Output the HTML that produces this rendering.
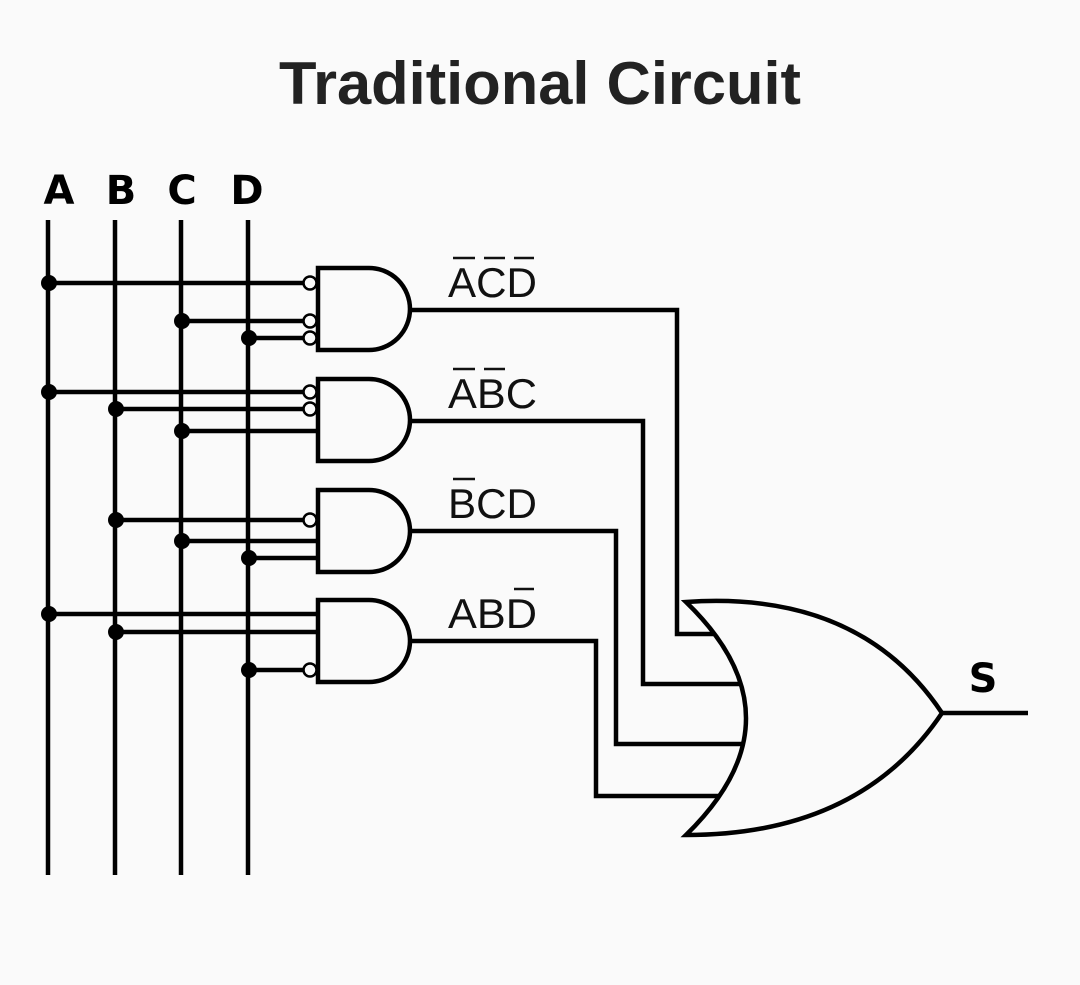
<!DOCTYPE html>
<html><head><style>
html,body{margin:0;padding:0;background:#fafafa;}
svg{display:block;}
</style></head><body>
<svg width="1080" height="985" viewBox="0 0 1080 985" xmlns="http://www.w3.org/2000/svg">
<rect width="1080" height="985" fill="#fafafa"/>
<text x="540" y="104" text-anchor="middle" font-family="Liberation Sans, sans-serif" font-weight="bold" font-size="60" fill="#222" textLength="522" lengthAdjust="spacingAndGlyphs">Traditional Circuit</text>
<g font-family="DejaVu Sans, sans-serif" font-weight="bold" font-size="40" fill="#000" text-anchor="middle">
<text x="59" y="204">A</text><text x="121" y="204">B</text><text x="182" y="204">C</text><text x="247" y="204">D</text>
</g>
<g stroke="#000" stroke-width="4.5" fill="none">
<line x1="48" y1="220" x2="48" y2="875"/>
<line x1="115" y1="220" x2="115" y2="875"/>
<line x1="181" y1="220" x2="181" y2="875"/>
<line x1="248" y1="220" x2="248" y2="875"/>
<line x1="48" y1="283" x2="318" y2="283"/>
<line x1="181" y1="321" x2="318" y2="321"/>
<line x1="248" y1="338" x2="318" y2="338"/>
<line x1="48" y1="392" x2="318" y2="392"/>
<line x1="115" y1="409" x2="318" y2="409"/>
<line x1="181" y1="431" x2="318" y2="431"/>
<line x1="115" y1="520" x2="318" y2="520"/>
<line x1="181" y1="541" x2="318" y2="541"/>
<line x1="248" y1="558" x2="318" y2="558"/>
<line x1="48" y1="614" x2="318" y2="614"/>
<line x1="115" y1="632" x2="318" y2="632"/>
<line x1="248" y1="670" x2="318" y2="670"/>
<path d="M318 268 H369 A41 41 0 0 1 369 350 H318 Z" fill="#fafafa"/>
<path d="M318 379 H369 A41 41 0 0 1 369 461 H318 Z" fill="#fafafa"/>
<path d="M318 490 H369 A41 41 0 0 1 369 572 H318 Z" fill="#fafafa"/>
<path d="M318 600 H369 A41 41 0 0 1 369 682 H318 Z" fill="#fafafa"/>
<polyline points="410,310 677,310 677,634 716,634"/>
<polyline points="410,421 643,421 643,684 742,684"/>
<polyline points="410,531 616,531 616,744 746,744"/>
<polyline points="410,641 596,641 596,796 724,796"/>
<path d="M686 602 Q806 718 686 835 Q860 835 942 713 Q860 590 686 602 Z" fill="#fafafa"/>
<line x1="942" y1="713" x2="1028" y2="713"/>
</g>
<g fill="#fafafa" stroke="#000" stroke-width="2.5">
<circle cx="310" cy="283" r="6.5"/><circle cx="310" cy="321" r="6.5"/><circle cx="310" cy="338" r="6.5"/>
<circle cx="310" cy="392" r="6.5"/><circle cx="310" cy="409" r="6.5"/>
<circle cx="310" cy="520" r="6.5"/>
<circle cx="310" cy="670" r="6.5"/>
</g>
<g fill="#000">
<circle cx="49" cy="283" r="8"/><circle cx="182" cy="321" r="8"/><circle cx="249" cy="338" r="8"/>
<circle cx="49" cy="392" r="8"/><circle cx="116" cy="409" r="8"/><circle cx="182" cy="431" r="8"/>
<circle cx="116" cy="520" r="8"/><circle cx="182" cy="541" r="8"/><circle cx="249" cy="558" r="8"/>
<circle cx="49" cy="614" r="8"/><circle cx="116" cy="632" r="8"/><circle cx="249" cy="670" r="8"/>
</g>
<g font-family="Liberation Sans, sans-serif" font-size="42" fill="#111">
<text x="448" y="297" textLength="89" lengthAdjust="spacingAndGlyphs">ACD</text>
<text x="448" y="408" textLength="89" lengthAdjust="spacingAndGlyphs">ABC</text>
<text x="448" y="518" textLength="89" lengthAdjust="spacingAndGlyphs">BCD</text>
<text x="448" y="628" textLength="89" lengthAdjust="spacingAndGlyphs">ABD</text>
</g>
<g stroke="#111" stroke-width="2.5">
<line x1="453" y1="258" x2="475" y2="258"/><line x1="484" y1="258" x2="505" y2="258"/><line x1="514" y1="258" x2="534" y2="258"/>
<line x1="453" y1="369" x2="475" y2="369"/><line x1="484" y1="369" x2="505" y2="369"/>
<line x1="453" y1="479" x2="475" y2="479"/>
<line x1="514" y1="589" x2="534" y2="589"/>
</g>
<text x="983" y="692" text-anchor="middle" font-family="DejaVu Sans, sans-serif" font-weight="bold" font-size="40" fill="#000">S</text>
</svg>
</body></html>
